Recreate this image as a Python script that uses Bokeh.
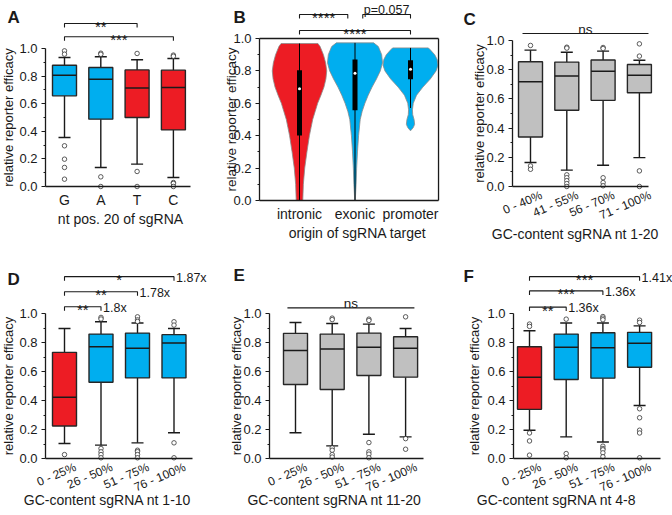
import math
from bokeh.plotting import figure
from bokeh.layouts import row, column
from bokeh.models import Range1d, FixedTicker, NumeralTickFormatter
from bokeh.core.properties import value
from bokeh.embed import file_html
from bokeh.resources import INLINE

FONT = "Liberation Sans"
BLUE = "#00aeef"
RED = "#ed1c24"
GRAY = "#c0c0c0"
INK = "#1a1a1a"

# ---------------- data ----------------
# Panel A
a_cats = ["G", "A", "T", "C"]
a_q1 = [0.657, 0.488, 0.500, 0.410]
a_med = [0.807, 0.778, 0.713, 0.717]
a_q3 = [0.879, 0.862, 0.845, 0.843]
a_lo = [0.355, 0.138, 0.162, 0.065]
a_hi = [0.935, 0.940, 0.918, 0.928]
a_out = [[0.983, 0.959, 0.295, 0.198, 0.138, 0.053],
         [0.966, 0.958, 0.070, 0.0],
         [0.964, 0.109, 0.0],
         [0.952, 0.944, 0.029, 0.022, 0.0]]
a_col = [BLUE, BLUE, RED, RED]

# Panel B (violins)
b_cats = ["intronic", "exonic", "promoter"]
b_col = [RED, BLUE, BLUE]
intr_y = [0.0, 0.1, 0.2, 0.3, 0.4, 0.45, 0.5, 0.55, 0.6, 0.65, 0.7, 0.75, 0.8, 0.85, 0.9, 0.95, 0.969]
intr_d = [0.12, 0.14, 0.19, 0.27, 0.36, 0.42, 0.48, 0.57, 0.66, 0.78, 0.89, 0.96, 0.99, 0.95, 0.87, 0.75, 0.67]
exon_y = [0.0, 0.1, 0.2, 0.3, 0.4, 0.5, 0.55, 0.6, 0.65, 0.7, 0.75, 0.8, 0.85, 0.9, 0.95, 0.973]
exon_d = [0.01, 0.04, 0.06, 0.09, 0.13, 0.19, 0.26, 0.36, 0.48, 0.62, 0.78, 0.92, 1.0, 0.97, 0.85, 0.68]
prom_y = [0.43, 0.45, 0.47, 0.5, 0.53, 0.56, 0.6, 0.65, 0.7, 0.75, 0.8, 0.835, 0.87, 0.9, 0.93, 0.942]
prom_d = [0.0, 0.10, 0.15, 0.13, 0.08, 0.07, 0.10, 0.22, 0.45, 0.72, 0.93, 1.0, 0.97, 0.88, 0.72, 0.65]
b_q1 = [0.402, 0.557, 0.748]
b_med = [0.690, 0.786, 0.810]
b_q3 = [0.804, 0.870, 0.866]
b_min = [0.0, 0.0, 0.571]
b_max = [0.969, 0.973, 0.942]

# Panel C
c_cats = ["0 - 40%", "41 - 55%", "56 - 70%", "71 - 100%"]
c_q1 = [0.339, 0.522, 0.590, 0.642]
c_med = [0.718, 0.756, 0.790, 0.762]
c_q3 = [0.854, 0.852, 0.866, 0.836]
c_lo = [0.164, 0.112, 0.146, 0.198]
c_hi = [0.934, 0.920, 0.927, 0.865]
c_out = [[0.966, 0.141, 0.118],
         [0.954, 0.948, 0.080, 0.060, 0.040, 0.020, 0.0],
         [0.952, 0.945, 0.060, 0.027, 0.005],
         [0.977, 0.893, 0.107, 0.0]]
c_col = [GRAY] * 4

# Panel D
gc_cats = ["0 - 25%", "26 - 50%", "51 - 75%", "76 - 100%"]
d_q1 = [0.224, 0.526, 0.556, 0.556]
d_med = [0.423, 0.771, 0.760, 0.796]
d_q3 = [0.732, 0.858, 0.865, 0.854]
d_lo = [0.103, 0.092, 0.108, 0.178]
d_hi = [0.897, 0.943, 0.934, 0.897]
d_out = [[0.027],
         [0.973, 0.962, 0.069, 0.046, 0.027, 0.005],
         [0.977, 0.956, 0.945, 0.057, 0.047, 0.027, 0.005],
         [0.943, 0.920, 0.108, 0.005]]
d_col = [RED, BLUE, BLUE, BLUE]

# Panel E
e_q1 = [0.510, 0.476, 0.572, 0.561]
e_med = [0.744, 0.755, 0.767, 0.760]
e_q3 = [0.863, 0.858, 0.865, 0.840]
e_lo = [0.178, 0.087, 0.167, 0.149]
e_hi = [0.938, 0.931, 0.927, 0.897]
e_out = [[],
         [0.968, 0.958, 0.073, 0.057, 0.027, 0.010],
         [0.961, 0.952, 0.110, 0.046, 0.030, 0.005],
         [0.977, 0.137, 0.064]]
e_col = [GRAY] * 4

# Panel F
f_q1 = [0.339, 0.545, 0.554, 0.629]
f_med = [0.561, 0.767, 0.764, 0.794]
f_q3 = [0.771, 0.858, 0.867, 0.870]
f_lo = [0.195, 0.149, 0.114, 0.366]
f_hi = [0.881, 0.934, 0.934, 0.915]
f_out = [[0.927, 0.911, 0.176, 0.121, 0.023],
         [0.961, 0.034, 0.005],
         [0.979, 0.968, 0.957, 0.085, 0.069, 0.060, 0.039, 0.012],
         [0.954, 0.938, 0.343, 0.281, 0.195, 0.176, 0.005]]
f_col = [RED, BLUE, BLUE, BLUE]

# significance annotations: (from, to, level, label, fold)
a_sig = [(0, 2, 1.181, "**", ""), (0, 3, 1.085, "***", "")]
b_sig = [(0, 0.87, 1.148, "****", ""), (0, 2, 1.049, "****", "")]
b_p = (1.14, 2, 1.148, "p=0.057")
c_ns = (-0.22, 3.25, 1.048, "ns")
d_sig = [(0, 1, 1.047, "**", "1.8x"), (0, 2, 1.150, "**", "1.78x"), (0, 3, 1.254, "*", "1.87x")]
e_ns = (-0.22, 3.24, 1.039, "ns")
f_sig = [(0, 1, 1.044, "**", "1.36x"), (0, 2, 1.156, "***", "1.36x"), (0, 3, 1.254, "***", "1.41x")]


# ---------------- helpers ----------------
def make_panel(ox, oy, W, H, axis_x, y0, y1, cat0_x, sp, axis_end,
               cats, rotated, letter, letter_xy, ytitle_x, xtitle, xtitle_xy,
               ytitle_size="13px"):
    ppu = y0 - y1

    def dx(px):
        return (px - cat0_x) / sp

    def dy(py):
        return (y0 - py) / ppu

    p = figure(width=W, height=H, x_range=Range1d(dx(ox), dx(ox + W)),
               y_range=Range1d(dy(oy + H), dy(oy)),
               output_backend="svg", toolbar_location=None, title=None,
               min_border_left=0, min_border_right=0, min_border_top=0,
               min_border_bottom=0)
    p.outline_line_color = None
    p.xgrid.visible = False
    p.ygrid.visible = False
    axis_start = dx(axis_x)

    # y axis
    ya = p.yaxis[0]
    ya.fixed_location = axis_start
    ya.bounds = (0, 1)
    ya.ticker = FixedTicker(ticks=[0, 0.2, 0.4, 0.6, 0.8, 1.0],
                            minor_ticks=[0.1, 0.3, 0.5, 0.7, 0.9])
    ya.formatter = NumeralTickFormatter(format="0.0")
    ya.major_label_text_font = FONT
    ya.major_label_text_font_size = "13px"
    ya.major_label_text_color = INK
    ya.major_label_standoff = 4
    ya.major_tick_out = 4
    ya.major_tick_in = 0
    ya.minor_tick_out = 2
    ya.minor_tick_in = 0
    # x axis
    xa = p.xaxis[0]
    xa.fixed_location = 0
    xa.bounds = (axis_start, axis_end)
    xa.ticker = FixedTicker(ticks=list(range(len(cats))))
    xa.major_tick_out = 0
    xa.major_tick_in = 0
    xa.minor_tick_out = 0
    xa.minor_tick_in = 0
    xa.major_label_text_font = FONT
    xa.major_label_text_color = INK
    if rotated:
        xa.major_label_overrides = {i: "" for i in range(len(cats))}
        n = len(cats)
        p.text(x=[i + 11.0 / sp for i in range(n)], y=[-8.0 / ppu] * n, text=cats,
               angle=0.4, text_font=value(FONT), text_font_size="12px",
               text_color=INK, text_align="right", text_baseline="middle")
    else:
        xa.major_label_overrides = {i: c for i, c in enumerate(cats)}
        xa.major_label_text_font_size = "14px"
        xa.major_label_standoff = 5
    for ax in (xa, ya):
        ax.axis_line_color = INK
        ax.axis_line_width = 1.3
        ax.major_tick_line_color = INK
        ax.major_tick_line_width = 1.2
        ax.minor_tick_line_color = INK
        ax.minor_tick_line_width = 1.0
    # axis titles
    p.text(x=[dx(ytitle_x)], y=[0.5], text=["relative reporter efficacy"],
           angle=math.pi / 2, text_font=value(FONT), text_font_size=ytitle_size,
           text_color=INK, text_align="center", text_baseline="middle")
    p.text(x=[dx(xtitle_xy[0])], y=[dy(xtitle_xy[1])], text=[xtitle],
           text_font=value(FONT), text_font_size="14px", text_color=INK,
           text_align="center", text_baseline="middle")
    # panel letter
    p.text(x=[dx(letter_xy[0])], y=[dy(letter_xy[1])], text=[letter],
           text_font=value(FONT), text_font_size="17px", text_font_style="bold",
           text_color=INK, text_align="left", text_baseline="top")
    geo = dict(sp=sp, ppu=ppu, axis_start=axis_start)
    return p, geo


def draw_boxes(p, geo, q1, med, q3, lo, hi, out, cols):
    sp = geo["sp"]
    n = len(q1)
    x = list(range(n))
    bw = 24.0 / sp
    cw = 12.0 / sp
    p.segment(x0=x + x, y0=list(q3) + list(q1), x1=x + x, y1=list(hi) + list(lo),
              line_color=INK, line_width=1.4)
    p.segment(x0=[i - cw / 2 for i in x] * 2, y0=list(hi) + list(lo),
              x1=[i + cw / 2 for i in x] * 2, y1=list(hi) + list(lo),
              line_color=INK, line_width=1.4)
    p.vbar(x=x, width=bw, bottom=q1, top=q3, fill_color=cols, line_color="#262626",
           line_width=1.4)
    p.segment(x0=[i - bw / 2 for i in x], y0=med, x1=[i + bw / 2 for i in x], y1=med,
              line_color=INK, line_width=1.5)
    ox, oy = [], []
    for i, vals in enumerate(out):
        ox += [i] * len(vals)
        oy += list(vals)
    p.scatter(x=ox, y=oy, size=4.5, marker="circle", fill_color="white",
              line_color="#333333", line_width=0.8)


def draw_sig(p, geo, sig):
    tick = 4.0 / geo["ppu"]
    xs, ys = [], []
    for a, b, lev, s, f in sig:
        xs.append([a, a, b, b])
        ys.append([lev - tick, lev, lev, lev - tick])
    p.multi_line(xs=xs, ys=ys, line_color=INK, line_width=1.1)
    p.text(x=[(a + b) / 2 for a, b, lev, s, f in sig], y=[lev for a, b, lev, s, f in sig],
           text=[s for a, b, lev, s, f in sig], text_font=value(FONT),
           text_font_size="15px", text_color=INK, text_align="center",
           text_baseline="alphabetic", y_offset=3)
    folds = [(b, lev, f) for a, b, lev, s, f in sig if f]
    if folds:
        p.text(x=[t[0] for t in folds], y=[t[1] for t in folds], text=[t[2] for t in folds],
               text_font=value(FONT), text_font_size="12.5px", text_color=INK,
               text_align="left", text_baseline="middle", x_offset=2, y_offset=1)


def draw_ns(p, geo, ns):
    a, b, lev, s = ns
    p.segment(x0=[a], y0=[lev], x1=[b], y1=[lev], line_color=INK, line_width=1.1)
    p.text(x=[(a + b) / 2], y=[lev], text=[s], text_font=value(FONT),
           text_font_size="13.5px", text_color=INK, text_align="center",
           text_baseline="alphabetic", y_offset=-4)


# ---------------- panels ----------------
pA, gA = make_panel(0, 0, 222, 255, 45, 186, 48, 64, 36.3, 3.47,
                    a_cats, False, "A", (7, 7), 8, "nt pos. 20 of sgRNA", (120, 218))
draw_boxes(pA, gA, a_q1, a_med, a_q3, a_lo, a_hi, a_out, a_col)
draw_sig(pA, gA, a_sig)

pB, gB = make_panel(222, 0, 224, 255, 259, 200, 38, 299, 55.5, 2.505,
                    b_cats, False, "B", (233, 7), 231,
                    "origin of sgRNA target", (357, 232), ytitle_size="13.5px")
bsp = gB["sp"]
hw = 27.5 / bsp
vx, vy = [], []
for i, (ly, ld) in enumerate([(intr_y, intr_d), (exon_y, exon_d), (prom_y, prom_d)]):
    left = [i - d * hw for d in ld]
    right = [i + d * hw for d in ld]
    vx.append(left + right[::-1])
    vy.append(list(ly) + list(ly)[::-1])
pB.patches(xs=vx, ys=vy, fill_color=b_col, line_color="#8a8a8a", line_width=0.8)
bx = list(range(3))
pB.segment(x0=bx, y0=b_min, x1=bx, y1=b_max, line_color="black", line_width=1)
pB.vbar(x=bx, width=5.0 / bsp, bottom=b_q1, top=b_q3, fill_color="black", line_color=None)
pB.scatter(x=bx, y=b_med, size=3, marker="circle", fill_color="white", line_color=None)
# frame (top and right edges)
pB.segment(x0=[gB["axis_start"], 2.505], y0=[1.0, 0.0], x1=[2.505, 2.505], y1=[1.0, 1.0],
           line_color=INK, line_width=1.3)
draw_sig(pB, gB, b_sig)
pa, pb, plev, ptxt = b_p
ptick = 4.0 / gB["ppu"]
pB.multi_line(xs=[[pa, pa, pb, pb]], ys=[[plev - ptick, plev, plev, plev - ptick]],
              line_color=INK, line_width=1.1)
pB.text(x=[(pa + pb) / 2], y=[plev], text=[ptxt], text_font=value(FONT),
        text_font_size="12.5px", text_color=INK, text_align="center",
        text_baseline="alphabetic", y_offset=-5)

pC, gC = make_panel(446, 0, 226, 255, 512, 186, 40, 530, 36.3, 3.25,
                    c_cats, True, "C", (463, 9), 479,
                    "GC-content sgRNA nt 1-20", (575, 233))
draw_boxes(pC, gC, c_q1, c_med, c_q3, c_lo, c_hi, c_out, c_col)
draw_ns(pC, gC, c_ns)

pD, gD = make_panel(0, 255, 222, 260, 45, 458, 313, 64, 36.5, 3.5,
                    gc_cats, True, "D", (7, 269), 8,
                    "GC-content sgRNA nt 1-10", (107, 499))
draw_boxes(pD, gD, d_q1, d_med, d_q3, d_lo, d_hi, d_out, d_col)
draw_sig(pD, gD, d_sig)

pE, gE = make_panel(222, 255, 224, 260, 269, 458, 313, 295, 36.7, 3.49,
                    gc_cats, True, "E", (233, 265), 236,
                    "GC-content sgRNA nt 11-20", (334, 499))
draw_boxes(pE, gE, e_q1, e_med, e_q3, e_lo, e_hi, e_out, e_col)
draw_ns(pE, gE, e_ns)

pF, gF = make_panel(446, 255, 226, 260, 513, 458, 313, 529, 36.7, 3.57,
                    gc_cats, True, "F", (463, 266), 474,
                    "GC-content sgRNA nt 4-8", (556, 499))
draw_boxes(pF, gF, f_q1, f_med, f_q3, f_lo, f_hi, f_out, f_col)
draw_sig(pF, gF, f_sig)

layout = column(row(pA, pB, pC), row(pD, pE, pF))
open("out.html", "w").write(file_html(layout, INLINE))
